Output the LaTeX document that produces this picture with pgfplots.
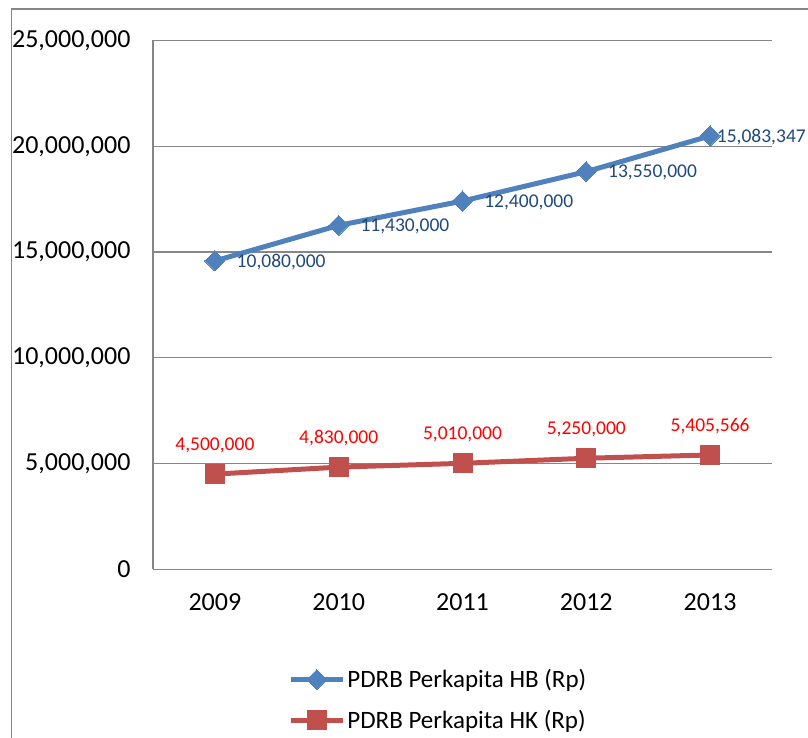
\documentclass[border=0pt]{standalone}
\usepackage{pgfplots}
\pgfplotsset{compat=1.18}
\usepackage{pgfplotstable}
\usepackage{fontspec}
\setmainfont{Carlito}
\definecolor{hb}{HTML}{4F81BD}
\definecolor{hk}{HTML}{C0504D}
\definecolor{hblab}{HTML}{1F497D}
\definecolor{gridc}{HTML}{868686}
\pgfplotstableread{
x y lab
0 4500000 4,500,000
1 4830000 4,830,000
2 5010000 5,010,000
3 5250000 5,250,000
4 5405566 5,405,566
}\hkdata
\pgfplotstableread{
x y lab dx
0 10080000 10,080,000 18.5
1 11430000 11,430,000 18.5
2 12400000 12,400,000 18.5
3 13550000 13,550,000 18.5
4 15083347 15,083,347 3.5
}\hbdata
\begin{document}
\begin{tikzpicture}[x=1pt,y=1pt]
\useasboundingbox (0,0) rectangle (808,738);
\draw[gridc,line width=1.5pt] (11.5,-20) -- (11.5,729) -- (830,729);
\begin{axis}[
  at={(153pt,168.7pt)}, anchor=south west,
  scale only axis, width=619pt, height=528.8pt,
  xmin=-0.5, xmax=4.5, ymin=0, ymax=25000000,
  scaled y ticks=false,
  xtick={0,1,2,3,4}, xticklabels={2009,2010,2011,2012,2013},
  ytick={0,5000000,10000000,15000000,20000000,25000000},
  yticklabels={0,{5,000,000},{10,000,000},{15,000,000},{20,000,000},{25,000,000}},
  axis x line*=bottom, axis y line*=left,
  axis line style={-,gridc,line width=1.5pt},
  ymajorgrids=true,
  major grid style={gridc,line width=1.2pt},
  major tick length=0pt,
  /pgf/number format/assume math mode=true,
  tick label style={font=\fontsize{26}{31}\selectfont,black},
  yticklabel style={xshift=-19pt},
  xticklabel style={yshift=-21pt},
  stack plots=y,
  reverse legend,
  legend style={at={(0.461,-0.247)}, anchor=center, draw=none, fill=none,
    font=\fontsize{25}{30}\selectfont, row sep=17pt, legend cell align=left},
  legend image code/.code={\draw[mark repeat=2,mark phase=2] plot coordinates {(0pt,0pt) (26pt,0pt) (52pt,0pt)};},
]
\addplot[hk, line width=5pt, line join=round, mark=square*, mark size=9.5pt,
  mark options={solid,fill=hk,draw=hk,line width=0pt},
  point meta=explicit symbolic, nodes near coords,
  nodes near coords style={anchor=center, yshift=29pt, text=red, font=\fontsize{19.5}{23}\selectfont}]
  table[x=x,y=y,meta=lab] {\hkdata};
\addlegendentry{PDRB Perkapita HK (Rp)}
\addplot[hb, line width=5pt, line join=round, mark=square*, mark size=7.1pt,
  mark options={solid,fill=hb,draw=hb,line width=0pt,rotate=45},
  point meta=explicit symbolic, nodes near coords,
  visualization depends on={\thisrow{dx} \as \dx},
  nodes near coords style={anchor=west, xshift=\dx pt, yshift=-1pt, text=hblab, font=\fontsize{19.5}{23}\selectfont}]
  table[x=x,y=y,meta=lab] {\hbdata};
\addlegendentry{PDRB Perkapita HB (Rp)}
\end{axis}
\end{tikzpicture}
\end{document}
